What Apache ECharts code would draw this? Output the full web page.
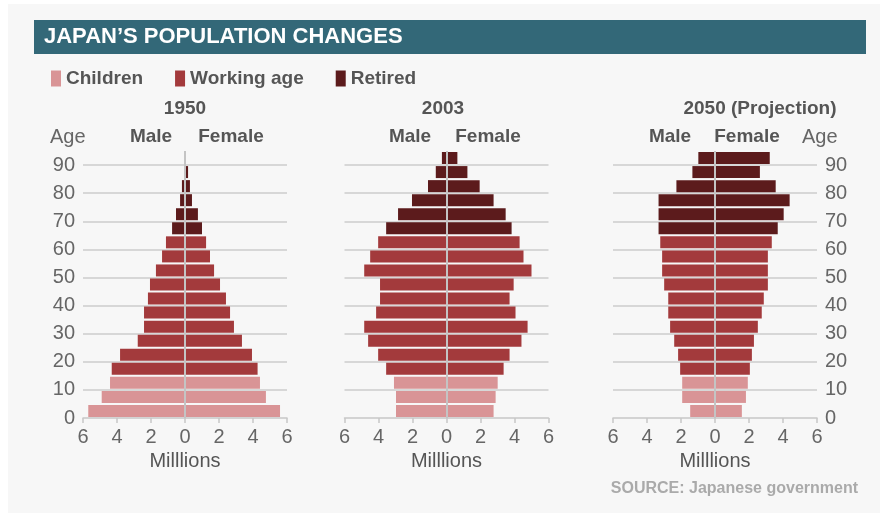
<!DOCTYPE html>
<html>
<head>
<meta charset="utf-8">
<script src="https://cdn.jsdelivr.net/npm/echarts@6/dist/echarts.min.js"></script>
<style>
  html, body { margin: 0; padding: 0; background: #ffffff; }
  #chart { width: 883px; height: 514px; }
</style>
</head>
<body>
<div id="chart"></div>
<script>
// ---- Data (millions of people, 5-year age groups) ----
const ageGroups = ['0-4','5-9','10-14','15-19','20-24','25-29','30-34','35-39','40-44','45-49',
                   '50-54','55-59','60-64','65-69','70-74','75-79','80-84','85-89','90-94'];
const groupNames = ['Children', 'Working age', 'Retired'];
// index ranges of each group within ageGroups: children 0-14, working 15-64, retired 65+
const groupStart = [0, 3, 13];
const groupEnd   = [2, 12, 18];

const years = ['1950', '2003', '2050 (Projection)'];

const male1950   = [5.69, 4.90, 4.41, 4.31, 3.82, 2.78, 2.41, 2.41, 2.18, 2.06, 1.71, 1.35, 1.12, 0.76, 0.53, 0.29, 0.18, 0.05, 0];
const female1950 = [5.59, 4.76, 4.41, 4.27, 3.94, 3.35, 2.88, 2.65, 2.41, 2.06, 1.71, 1.47, 1.24, 1.00, 0.76, 0.41, 0.29, 0.18, 0];

const male2003   = [2.97, 2.97, 3.09, 3.55, 4.02, 4.61, 4.84, 4.14, 3.91, 3.91, 4.84, 4.49, 4.02, 3.55, 2.85, 2.03, 1.09, 0.63, 0.27];
const female2003 = [2.77, 2.89, 3.01, 3.36, 3.71, 4.41, 4.77, 4.06, 3.71, 3.95, 5.00, 4.53, 4.30, 3.83, 3.48, 2.77, 1.95, 1.23, 0.64];

const male2050   = [1.46, 1.93, 1.93, 2.05, 2.17, 2.40, 2.64, 2.75, 2.75, 2.99, 3.11, 3.11, 3.22, 3.32, 3.32, 3.32, 2.27, 1.33, 0.98];
const female2050 = [1.58, 1.82, 1.93, 2.05, 2.17, 2.29, 2.52, 2.75, 2.87, 3.11, 3.11, 3.11, 3.34, 3.69, 4.04, 4.39, 3.57, 2.64, 3.22];

const xTicks = [-6, -4, -2, 0, 2, 4, 6];
const ageTicks = [0, 10, 20, 30, 40, 50, 60, 70, 80, 90];

// ---- Styling ----
const colors = ['#d99496', '#a33a3c', '#5c1b1c'];
const FONT = '"Liberation Sans", Arial, Helvetica, sans-serif';
const gridLefts = [83, 344.5, 613];
const gridW = 204, gridTop = 151, gridH = 267;

const panels = [
  { male: male1950, female: female1950 },
  { male: male2003, female: female2003 },
  { male: male2050, female: female2050 }
];

const grids = [], xAxes = [], yAxes = [], series = [];
panels.forEach((p, gi) => {
  grids.push({ left: gridLefts[gi], top: gridTop, width: gridW, height: gridH, containLabel: false });
  xAxes.push({
    gridIndex: gi, type: 'value', min: xTicks[0], max: xTicks[xTicks.length - 1], interval: 2,
    axisLine: { show: true, onZero: false, lineStyle: { color: '#c8c8c8', width: 1.5 } },
    axisTick: { show: true, length: 5, lineStyle: { color: '#c8c8c8', width: 1.5 } },
    axisLabel: { color: '#666', fontFamily: FONT, fontSize: 20, margin: 9, formatter: v => String(Math.abs(v)) },
    splitLine: { show: false },
    name: 'Milllions', nameLocation: 'middle', nameGap: 27,
    nameTextStyle: { color: '#555', fontFamily: FONT, fontSize: 20 }
  });
  // hidden category axis for bars
  yAxes.push({
    gridIndex: gi, type: 'category', data: ageGroups, show: false, boundaryGap: true
  });
  // value axis for age labels and grid lines
  yAxes.push({
    gridIndex: gi, type: 'value', min: 0, max: 95, interval: 10,
    position: gi === 2 ? 'right' : 'left',
    axisLine: { show: false }, axisTick: { show: false },
    axisLabel: { show: gi !== 1, color: '#666', fontFamily: FONT, fontSize: 20, margin: 8, showMaxLabel: false },
    splitLine: { show: true, showMaxLine: false, showMinLine: false, lineStyle: { color: '#cccccc', width: 1.5 } }
  });
  const catY = gi * 2;
  ['male', 'female'].forEach((sex, si) => {
    groupNames.forEach((gname, k) => {
      const data = p[sex].map((v, i) =>
        (i >= groupStart[k] && i <= groupEnd[k]) ? (sex === 'male' ? -v : v) : '-');
      const s = {
        name: gname, type: 'bar', xAxisIndex: gi, yAxisIndex: catY,
        data: data, barWidth: 12, barGap: '-100%',
        itemStyle: { color: colors[k] }, silent: true, animation: false
      };
      if (si === 1 && k === 2) {
        s.markLine = {
          silent: true, symbol: 'none', animation: false,
          label: { show: false },
          lineStyle: { color: '#c4c4c4', width: 2, type: 'solid' },
          data: [{ xAxis: 0 }]
        };
      }
      series.push(s);
    });
  });
});

const txt = (x, y, text, opts) => ({
  type: 'text', x: x, y: y, silent: true,
  style: Object.assign({ text: text, fill: '#555', font: '20px ' + FONT, textAlign: 'center', textVerticalAlign: 'middle' }, opts || {})
});

const option = {
  backgroundColor: '#ffffff',
  animation: false,
  legend: {
    data: groupNames, left: 46, top: 64, icon: 'rect', itemWidth: 10, itemHeight: 16, itemGap: 32,
    selectedMode: false,
    textStyle: { color: '#555', fontFamily: FONT, fontSize: 19, fontWeight: 'bold' }
  },
  grid: grids, xAxis: xAxes, yAxis: yAxes, series: series,
  graphic: [
    { type: 'rect', z: -10, silent: true, shape: { x: 8, y: 4, width: 872, height: 509 }, style: { fill: '#f7f7f7' } },
    { type: 'rect', z: -5, silent: true, shape: { x: 34, y: 20, width: 832, height: 34 }, style: { fill: '#336878' } },
    txt(44, 37, 'JAPAN’S POPULATION CHANGES', { fill: '#ffffff', font: 'bold 22px ' + FONT, textAlign: 'left' }),
    txt(185, 109, years[0], { font: 'bold 19px ' + FONT }),
    txt(443, 109, years[1], { font: 'bold 19px ' + FONT }),
    txt(760, 109, years[2], { font: 'bold 19px ' + FONT }),
    txt(50, 137, 'Age', { fill: '#666', textAlign: 'left' }),
    txt(151, 137, 'Male', { font: 'bold 19px ' + FONT }),
    txt(231, 137, 'Female', { font: 'bold 19px ' + FONT }),
    txt(410, 137, 'Male', { font: 'bold 19px ' + FONT }),
    txt(488, 137, 'Female', { font: 'bold 19px ' + FONT }),
    txt(670, 137, 'Male', { font: 'bold 19px ' + FONT }),
    txt(747, 137, 'Female', { font: 'bold 19px ' + FONT }),
    txt(802, 137, 'Age', { fill: '#666', textAlign: 'left' }),
    txt(858, 489, 'SOURCE: Japanese government', { fill: '#aaaaaa', font: 'bold 16px ' + FONT, textAlign: 'right' })
  ]
};

const chart = echarts.init(document.getElementById('chart'), null, { renderer: 'canvas' });
chart.setOption(option);
</script>
</body>
</html>
